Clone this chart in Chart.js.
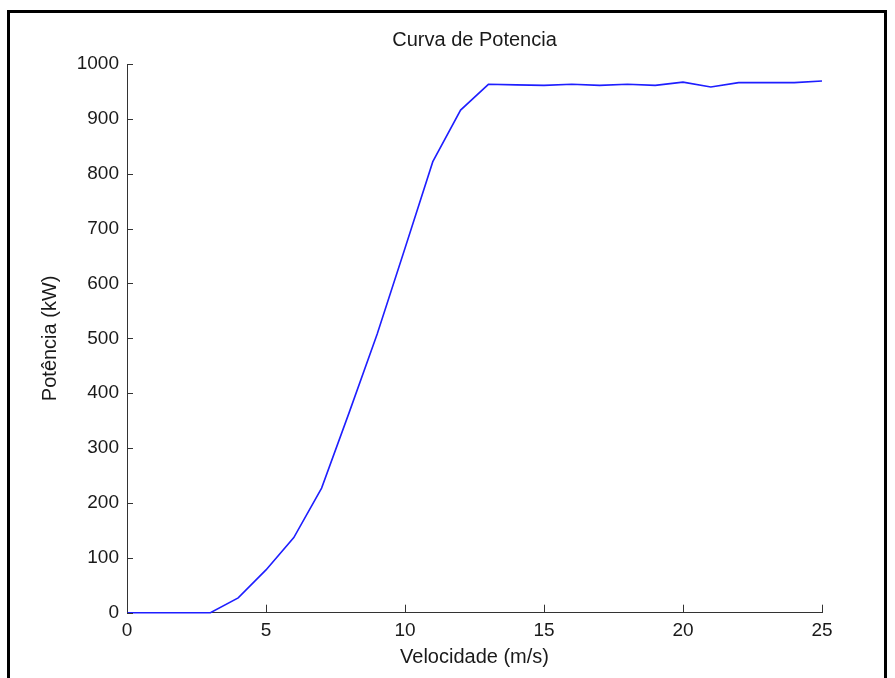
<!DOCTYPE html>
<html>
<head>
<meta charset="utf-8">
<title>Curva de Potencia</title>
<script src="https://cdn.jsdelivr.net/npm/chart.js@4/dist/chart.umd.min.js"></script>
<style>
  html, body { margin: 0; padding: 0; background: #ffffff; overflow: hidden; }
  #wrap { position: relative; width: 895px; height: 678px; }
  #frame {
    position: absolute; left: 7px; top: 10px; width: 874px; height: 720px;
    border: 3px solid #000; pointer-events: none; box-sizing: content-box;
  }
  canvas { position: absolute; left: 0; top: 0; }
</style>
</head>
<body>
<div id="wrap">
  <canvas id="chart" width="895" height="678"></canvas>
  <div id="frame"></div>
</div>
<script>
// Wind speed (m/s) and turbine power output (kW)
const speeds = [0, 1, 2, 3, 4, 5, 6, 7, 8, 9, 10, 11, 12, 13, 14, 15, 16, 17, 18, 19, 20, 21, 22, 23, 24, 25];
const power  = [0, 0, 0, 0, 27, 78, 137, 227, 366, 508, 664, 822, 916, 963, 962, 961, 963, 961, 963, 961, 967, 958, 966, 966, 966, 969];

// Axis ticks
const xTicks = [0, 5, 10, 15, 20, 25];
const yTicks = [0, 100, 200, 300, 400, 500, 600, 700, 800, 900, 1000];

const chartTitle = 'Curva de Potencia';
const xTitle = 'Velocidade (m/s)';
const yTitle = 'Potência (kW)';

const FONT = "'Liberation Sans', Arial, Helvetica, sans-serif";
const AXIS_COLOR = '#333333';
const TEXT_COLOR = '#1a1a1a';

// Tick marks drawn pointing into the plot area
const inwardTicks = {
  id: 'inwardTicks',
  afterDraw(chart) {
    const { ctx, chartArea, scales } = chart;
    ctx.save();
    ctx.strokeStyle = AXIS_COLOR;
    ctx.lineWidth = 1;
    ctx.beginPath();
    xTicks.forEach(v => {
      const px = Math.round(scales.x.getPixelForValue(v)) + 0.5;
      ctx.moveTo(px, chartArea.bottom);
      ctx.lineTo(px, chartArea.bottom - 8);
    });
    yTicks.forEach(v => {
      const py = Math.round(scales.y.getPixelForValue(v)) + 0.5;
      ctx.moveTo(chartArea.left, py);
      ctx.lineTo(chartArea.left + 6, py);
    });
    ctx.stroke();
    ctx.restore();
  }
};

new Chart(document.getElementById('chart'), {
  type: 'line',
  data: {
    datasets: [{
      data: speeds.map((s, i) => ({ x: s, y: power[i] })),
      borderColor: 'rgb(30, 30, 255)',
      borderWidth: 1.6,
      pointRadius: 0,
      tension: 0,
      fill: false,
      clip: false
    }]
  },
  options: {
    responsive: false,
    devicePixelRatio: 1,
    animation: false,
    events: [],
    layout: { padding: { left: 0, right: 73, top: 0, bottom: 0 } },
    plugins: {
      legend: { display: false },
      tooltip: { enabled: false },
      title: {
        display: true,
        fullSize: false,
        text: chartTitle,
        color: TEXT_COLOR,
        font: { family: FONT, size: 20, weight: 'normal', lineHeight: 1.2 },
        padding: { top: 28, bottom: 12 }
      }
    },
    scales: {
      x: {
        type: 'linear',
        min: 0, max: 25,
        afterBuildTicks(scale) { scale.ticks = xTicks.map(v => ({ value: v })); },
        afterFit(scale) { scale.height = 65.3; },
        grid: { display: false, drawTicks: false },
        border: { display: true, color: AXIS_COLOR, width: 1 },
        ticks: {
          color: TEXT_COLOR,
          padding: 6.4,
          maxRotation: 0,
          callback: v => String(v),
          font: { family: FONT, size: 19, lineHeight: 1.2 }
        },
        title: {
          display: true,
          text: xTitle,
          color: TEXT_COLOR,
          font: { family: FONT, size: 20, lineHeight: 1.2 },
          padding: { top: 0, bottom: 8.5 }
        }
      },
      y: {
        type: 'linear',
        min: 0, max: 1000,
        afterBuildTicks(scale) { scale.ticks = yTicks.map(v => ({ value: v })); },
        afterFit(scale) { scale.width = 127; },
        grid: { display: false, drawTicks: false },
        border: { display: true, color: AXIS_COLOR, width: 1 },
        ticks: {
          color: TEXT_COLOR,
          padding: 8,
          callback: v => String(v),
          font: { family: FONT, size: 19, lineHeight: 1.2 }
        },
        title: {
          display: true,
          text: yTitle,
          color: TEXT_COLOR,
          font: { family: FONT, size: 20, lineHeight: 1.2 },
          padding: { top: 38, bottom: 0 }
        }
      }
    }
  },
  plugins: [inwardTicks]
});
</script>
</body>
</html>
